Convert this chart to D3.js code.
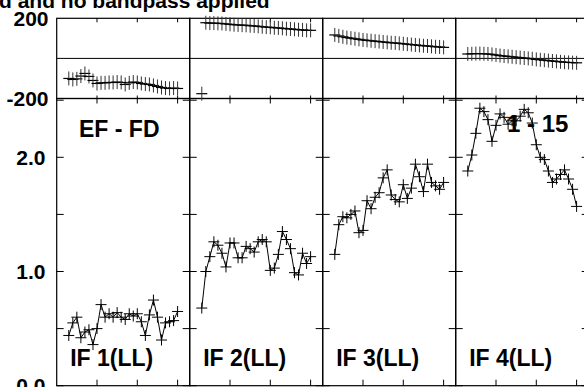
<!DOCTYPE html>
<html><head><meta charset="utf-8">
<script src="https://cdn.jsdelivr.net/npm/d3@7/dist/d3.min.js"></script>
<style>
body{margin:0;background:#fff;overflow:hidden;}
svg{display:block;}
text{font-family:"Liberation Sans",Arial,Helvetica,sans-serif;font-weight:bold;fill:#000;}
</style>
</head><body>
<svg id="chart" width="584" height="387"></svg>
<script>
// ---- data ----
const channels = [3,4,5,6,7,8,9,10,11,12,13,14,15,16,17,18,19,20,21,22,23,24,25,26,27,28,29,30];
const panelLabels = ["IF 1(LL)","IF 2(LL)","IF 3(LL)","IF 4(LL)"];
const amp1 = [0.44,0.55,0.60,0.42,0.47,0.49,0.36,0.50,0.71,0.60,0.63,0.60,0.64,0.60,0.58,0.63,0.61,0.63,0.56,0.44,0.62,0.75,0.60,0.40,0.55,0.56,0.57,0.65];
const amp2 = [0.68,1.00,1.13,1.26,1.23,1.16,1.04,1.25,1.25,1.12,1.12,1.22,1.20,1.17,1.26,1.28,1.26,1.01,1.03,1.15,1.35,1.28,1.20,0.99,0.97,1.16,1.07,1.13];
const amp3 = [1.15,1.41,1.48,1.47,1.50,1.53,1.34,1.36,1.62,1.55,1.65,1.69,1.82,1.89,1.67,1.63,1.61,1.76,1.64,1.73,1.94,1.83,1.70,1.94,1.78,1.75,1.72,1.78];
const amp4 = [1.88,2.02,2.21,2.43,2.40,2.33,2.14,2.28,2.38,2.35,2.29,2.32,2.32,2.36,2.42,2.39,2.30,2.11,2.00,1.98,1.88,1.78,1.81,1.85,1.89,1.81,1.72,1.57];
const phase1 = [-100,-105,-102,-88,-75,-90,-110,-125,-122,-122,-120,-120,-118,-120,-130,-122,-118,-120,-125,-128,-130,-135,-140,-145,-148,-150,-148,-150];
const phase2 = [-176,178,176,176,175,174,172,170,168,167,166,165,163,162,160,158,156,155,153,152,150,148,147,145,143,142,140,140];
const phase3 = [117,112,108,104,101,98,95,92,90,88,86,84,82,80,78,77,75,73,71,69,67,65,63,62,60,58,57,55];
const phase4 = [22,23,24,24,23,22,20,17,14,12,10,8,6,4,2,0,-2,-5,-7,-9,-11,-13,-15,-17,-19,-20,-21,-22];
const ampTickValues = [0,0.5,1.0,1.5,2.0,2.5];
const ampLabelValues = [0,1,2];
const phaseLabelValues = [200,-200];
const chanTickValues = [10,20,30];
const titleText = "d and no bandpass applied";
const baselineText = "EF - FD";
const cornerText = "1 - 15";

const amps = [amp1,amp2,amp3,amp4];
const phases = [phase1,phase2,phase3,phase4];

// ---- layout ----
const svg = d3.select("#chart");
const panelW = 133;
const left0 = 56.7;
const panelX = d3.scaleLinear().domain([0,4]).range([left0, left0+4*panelW]);
const yPh = d3.scaleLinear().domain([-200,200]).range([98.5,18.3]);
const yAmp = d3.scaleLinear().domain([0,2.515]).range([385.7,98.5]);

const g = svg.append("g");

// title (cut at top)
svg.append("text").attr("x",-1).attr("y",7.5).style("font-size","21px").text(titleText);

for (let p=0;p<4;p++){
  const L = panelX(p), R = panelX(p+1);
  const x = d3.scaleLinear().domain([0,33]).range([L,R]);
  const pg = g.append("g");
  // frames
  pg.append("rect").attr("x",L).attr("y",yPh(200)).attr("width",R-L).attr("height",yPh(-200)-yPh(200))
    .attr("fill","none").attr("stroke","#000").attr("stroke-width",1.2);
  pg.append("rect").attr("x",L).attr("y",yAmp(2.515)).attr("width",R-L).attr("height",yAmp(0)-yAmp(2.515))
    .attr("fill","none").attr("stroke","#000").attr("stroke-width",1.2);
  // zero phase line
  pg.append("line").attr("x1",L).attr("x2",R).attr("y1",yPh(0)).attr("y2",yPh(0)).attr("stroke","#000").attr("stroke-width",1);
  // x ticks
  chanTickValues.forEach(c=>{
    const xx = x(c);
    pg.append("line").attr("x1",xx).attr("x2",xx).attr("y1",yPh(200)).attr("y2",yPh(200)+4).attr("stroke","#000");
    pg.append("line").attr("x1",xx).attr("x2",xx).attr("y1",yPh(-200)-3).attr("y2",yPh(-200)).attr("stroke","#000");
    pg.append("line").attr("x1",xx).attr("x2",xx).attr("y1",yAmp(2.515)).attr("y2",yAmp(2.515)+5).attr("stroke","#000");
    pg.append("line").attr("x1",xx).attr("x2",xx).attr("y1",yAmp(0)-6).attr("y2",yAmp(0)).attr("stroke","#000");
  });
  // amp y ticks
  ampTickValues.forEach(v=>{
    const yy = yAmp(v);
    pg.append("line").attr("x1",L).attr("x2",L+7).attr("y1",yy).attr("y2",yy).attr("stroke","#000");
    pg.append("line").attr("x1",R-7).attr("x2",R).attr("y1",yy).attr("y2",yy).attr("stroke","#000");
  });
  // amplitude line + crosses
  const pts = channels.map((c,i)=>[x(c), yAmp(amps[p][i])]);
  pg.append("path").attr("d",d3.line()(pts)).attr("fill","none").attr("stroke","#000").attr("stroke-width",1);
  pts.forEach(([cx,cy])=>{
    pg.append("path").attr("d",`M${cx-5.5},${cy}H${cx+5.5}M${cx},${cy-5.5}V${cy+5.5}`)
      .attr("stroke","#000").attr("stroke-width",1).attr("fill","none");
  });
  // phase crosses
  channels.forEach((c,i)=>{
    const cx = x(c), cy = yPh(phases[p][i]);
    pg.append("path").attr("d",`M${cx-5.5},${cy}H${cx+5.5}`).attr("stroke","#000").attr("stroke-width",1.2);
    pg.append("path").attr("d",`M${cx},${cy-7}V${cy+7}`).attr("stroke","#333").attr("stroke-width",1);
  });
  // panel label
  pg.append("text").attr("x",L+13.5).attr("y",366).style("font-size","23px").text(panelLabels[p]);
}

// left axis labels
ampLabelValues.forEach(v=>{
  svg.append("text").attr("x",45.5).attr("y",yAmp(v)+7.5).attr("text-anchor","end").style("font-size","21px").text(d3.format(".1f")(v));
});
phaseLabelValues.forEach(v=>{
  svg.append("text").attr("x",48.5).attr("y",yPh(v)+7.5).attr("text-anchor","end").style("font-size","21px").text(v);
});
// extra annotations
svg.append("text").attr("x",79).attr("y",137).style("font-size","23px").text(baselineText);
svg.append("text").attr("x",507).attr("y",132).style("font-size","24px").text(cornerText);
</script>
</body></html>
